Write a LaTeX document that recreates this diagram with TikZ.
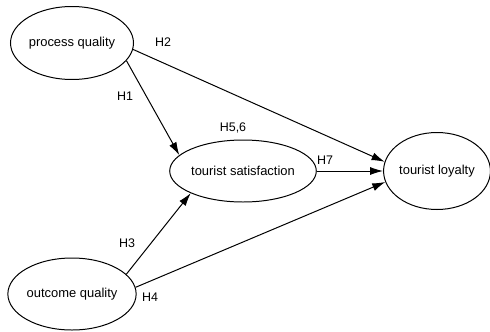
\documentclass[tikz,border=0pt]{standalone}
\usepackage{fontspec}
\setmainfont{Liberation Sans}
\usetikzlibrary{shapes.geometric,arrows.meta}
\begin{document}
\begin{tikzpicture}[x=1bp,y=1bp,
	construct/.style={draw,ellipse,line width=1pt,inner sep=0pt,font=\fontsize{13}{15}\selectfont},
	hyp/.style={font=\fontsize{12.5}{15}\selectfont},
	path/.style={line width=1pt,-{Latex[length=13bp,width=8bp]}}]
	\useasboundingbox (0,0) rectangle (490,331);

	\node[construct,minimum width=123bp,minimum height=73bp] (pq) at (72,288) {process quality};
	\node[construct,minimum width=121bp,minimum height=62bp] (ts) at (243,160) {tourist satisfaction};
	\node[construct,minimum width=101bp,minimum height=77bp] (tl) at (437,160) {tourist loyalty};
	\node[construct,minimum width=117bp,minimum height=72bp] (oq) at (72,37) {outcome quality};

	\draw[path] (pq.-18) -- (ts.166);
	\draw[path] (pq.-6) -- (tl.170);
	\draw[path] (ts.east) -- (tl.west);
	\draw[path] (oq.20) -- (ts.203);
	\draw[path] (oq.6) -- (tl.192);

	\node[hyp] (h2) at (163,289) {H2};
	\node[hyp] (h1) at (125,235) {H1};
	\node[hyp] (h56) at (233,203) {H5,6};
	\node[hyp] (h7) at (325,171) {H7};
	\node[hyp] (h3) at (127,88) {H3};
	\node[hyp] (h4) at (150,34) {H4};
\end{tikzpicture}
\end{document}
